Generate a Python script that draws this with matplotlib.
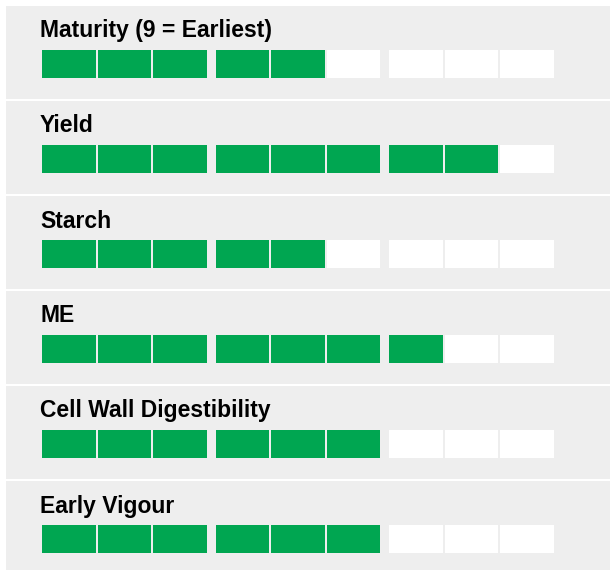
import matplotlib.pyplot as plt
from matplotlib.patches import Rectangle

traits = ["Maturity (9 = Earliest)", "Yield", "Starch", "ME",
          "Cell Wall Digestibility", "Early Vigour"]
scores = [5, 8, 5, 7, 6, 6]
max_score = 9

GREEN = "#00a651"
PANEL = "#eeeeee"

fig = plt.figure(figsize=(6.1, 5.7), dpi=100)
ax = fig.add_axes([0, 0, 1, 1])
ax.set_xlim(0, 610)
ax.set_ylim(570, 0)
ax.axis("off")

panel_top, panel_pitch, panel_h = 6, 95, 93
cell_w, cell_h, cell_step, group_step = 53.5, 28, 55.5, 173.5

for i, (name, score) in enumerate(zip(traits, scores)):
    top = panel_top + i * panel_pitch
    ax.add_patch(Rectangle((6, top), 610, panel_h, facecolor=PANEL, edgecolor="none"))
    ax.text(40, top + 31.5, name, fontsize=16.5, fontweight="bold",
            family=["Liberation Sans", "DejaVu Sans"], va="baseline", ha="left")
    for k in range(max_score):
        x = 42 + (k // 3) * group_step + (k % 3) * cell_step
        color = GREEN if k < score else "white"
        ax.add_patch(Rectangle((x, top + 44), cell_w, cell_h, facecolor=color, edgecolor="none"))

fig.savefig("out.png", dpi=100)
